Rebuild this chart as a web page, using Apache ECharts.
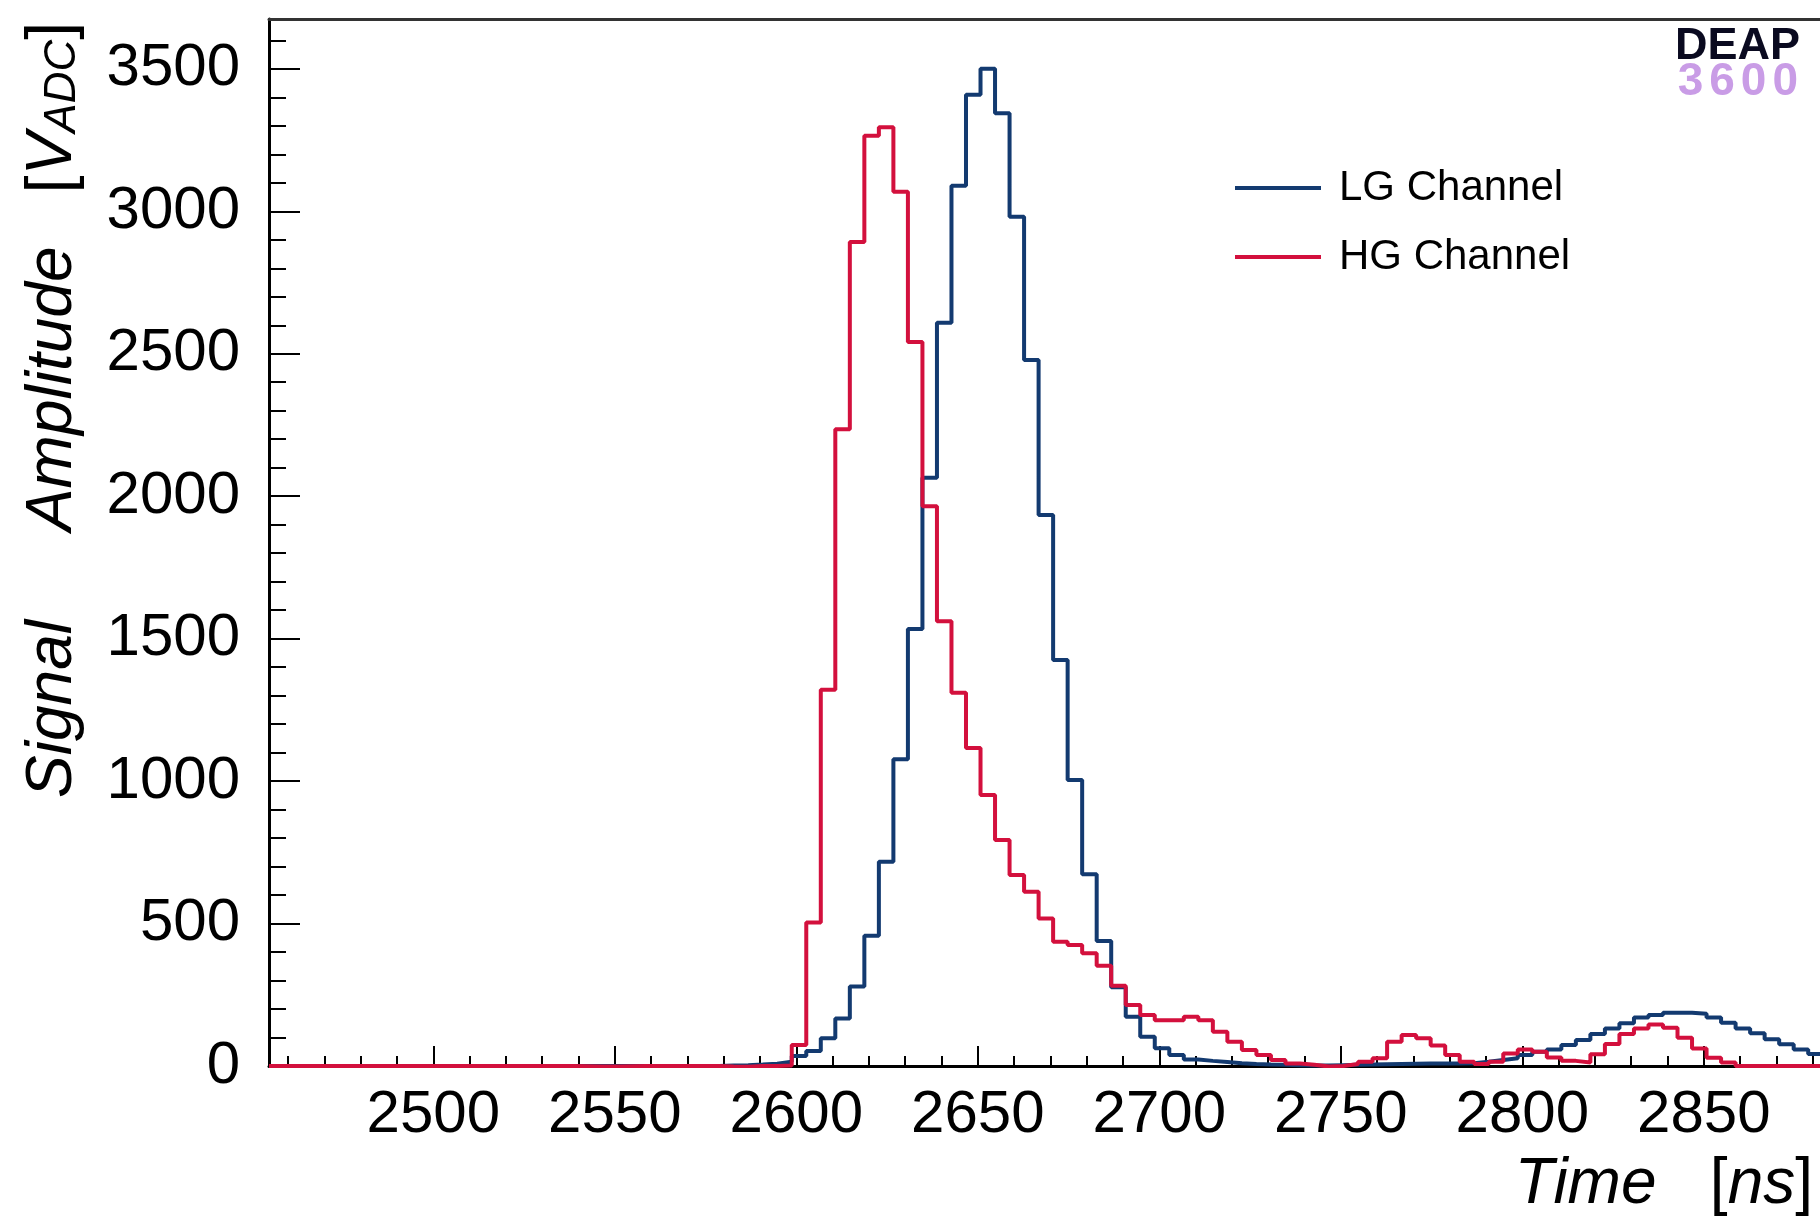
<!DOCTYPE html>
<html>
<head>
<meta charset="utf-8">
<script src="https://cdn.jsdelivr.net/npm/echarts@6/dist/echarts.min.js"></script>
<style>
html, body { margin: 0; padding: 0; background: #fff; }
#chart { width: 1820px; height: 1219px; }
</style>
</head>
<body>
<div id="chart"></div>
<script>
// histogram binning, ns
const binStart = 2454.75
const binWidth = 4
const xMax = 2882

// LG channel, one value per 4 ns bin
const lgValues = [
    0, 0, 0, 0, 0, 0, 0, 0, 0, 0,
    0, 0, 0, 0, 0, 0, 0, 0, 0, 0,
    0, 0, 0, 0, 0, 0, 0, 0, 0, 0,
    0, 2, 3, 5, 8, 15, 35, 53, 97, 167,
    279, 457, 717, 1077, 1534, 2065, 2609, 3090, 3409, 3500,
    3344, 2981, 2478, 1934, 1425, 1004, 673, 439, 276, 173,
    103, 62, 39, 23, 18, 14, 10, 7, 5, 4,
    3, 2, 2, 3, 4, 5, 6, 7, 8, 9,
    9, 9, 10, 15, 21, 27, 39, 50, 58, 74,
    91, 112, 132, 150, 170, 179, 187, 187, 183, 170,
    152, 132, 115, 94, 76, 58, 42
]

// HG channel
const hgValues = [
    0, 0, 0, 0, 0, 0, 0, 0, 0, 0,
    0, 0, 0, 0, 0, 0, 0, 0, 0, 0,
    0, -1, -2, -2, -1, 0, 0, 0, 0, 0,
    0, -2, -3, 0, 0, 2, 74, 504, 1321, 2235,
    2892, 3265, 3295, 3069, 2541, 1965, 1561, 1310, 1116, 951,
    793, 670, 612, 518, 436, 425, 396, 352, 282, 214,
    179, 161, 161, 173, 161, 120, 85, 56, 39, 21,
    9, 4, -2, 0, 7, 15, 27, 85, 109, 97,
    72, 39, 15, 7, 15, 44, 58, 50, 30, 18,
    12, 41, 77, 112, 132, 146, 134, 99, 61, 29,
    12, 0, 0, 0, 0, 0, 0
]

const xMajorTicks = [2500, 2550, 2600, 2650, 2700, 2750, 2800, 2850]
const yMajorTicks = [0, 500, 1000, 1500, 2000, 2500, 3000, 3500]
const yMax = 3675

const seriesNames = ['LG Channel', 'HG Channel']
const colors = ['#133a70', '#d3103d']

const xMinorTicks = []
for (let v = 2460; v <= 2880; v += 10) xMinorTicks.push(v)
const yMinorTicks = []
for (let v = 100; v <= 3600; v += 100) yMinorTicks.push(v)

const font = "'Liberation Sans', Arial, Helvetica, sans-serif"

// bin contents -> step points at the bin edges
function toSteps(values) {
    const pts = values.map((v, i) => [binStart + i * binWidth, v])
    pts.push([binStart + values.length * binWidth, values[values.length - 1]])
    return pts
}

const tickLine = { color: '#000', width: 2 }
const plain = (v) => String(v)

const myChart = echarts.init(document.getElementById('chart'))

const option = {
    animation: false,
    backgroundColor: '#fff',
    grid: { left: 269, right: 0, top: 19, bottom: 153 },
    legend: {
        data: seriesNames,
        orient: 'vertical',
        left: 1230,
        top: 162,
        icon: 'rect',
        itemWidth: 86,
        itemHeight: 4,
        itemGap: 27,
        textStyle: { fontSize: 42, fontFamily: font, color: '#000', lineHeight: 42, padding: [0, 0, 0, 13] }
    },
    xAxis: [
        {
            type: 'value', min: binStart, max: xMax, position: 'bottom',
            axisLine: { show: true, lineStyle: { color: '#000', width: 3 } },
            axisTick: { show: true, inside: true, length: 20, customValues: xMajorTicks, lineStyle: tickLine },
            axisLabel: { customValues: xMajorTicks, formatter: plain, fontSize: 60, fontFamily: font, color: '#000', margin: 19 },
            splitLine: { show: false }
        },
        {
            type: 'value', min: binStart, max: xMax, position: 'bottom',
            axisLine: { show: false },
            axisTick: { show: true, inside: true, length: 10, customValues: xMinorTicks, lineStyle: tickLine },
            axisLabel: { show: false },
            splitLine: { show: false }
        },
        {
            type: 'value', min: binStart, max: xMax, position: 'top',
            axisLine: { show: true, lineStyle: { color: '#333', width: 3 } },
            axisTick: { show: false },
            axisLabel: { show: false },
            splitLine: { show: false }
        }
    ],
    yAxis: [
        {
            type: 'value', min: 0, max: yMax, position: 'left',
            axisLine: { show: true, lineStyle: { color: '#000', width: 3 } },
            axisTick: { show: true, inside: true, length: 31, customValues: yMajorTicks, lineStyle: tickLine },
            axisLabel: { customValues: yMajorTicks, formatter: plain, fontSize: 60, fontFamily: font, color: '#000', margin: 29 },
            splitLine: { show: false }
        },
        {
            type: 'value', min: 0, max: yMax, position: 'left',
            axisLine: { show: false },
            axisTick: { show: true, inside: true, length: 17, customValues: yMinorTicks, lineStyle: tickLine },
            axisLabel: { show: false },
            splitLine: { show: false }
        }
    ],
    series: [lgValues, hgValues].map((vals, i) => ({
        name: seriesNames[i],
        type: 'line',
        step: 'end',
        symbol: 'none',
        xAxisIndex: 0,
        yAxisIndex: 0,
        data: toSteps(vals),
        lineStyle: { color: colors[i], width: 4 },
        itemStyle: { color: colors[i] }
    })),
    graphic: [
        {
            type: 'text', x: 53, y: 22, rotation: Math.PI / 2,
            style: {
                text: '{it|Signal}{rm|     }{it|Amplitude}{rm|   [}{it|V}{sub|ADC}{rm|]}',
                align: 'right', verticalAlign: 'middle',
                textAlign: 'right', textVerticalAlign: 'middle',
                fill: '#000',
                rich: {
                    it: { fontSize: 64, fontStyle: 'italic', fontFamily: font, lineHeight: 64 },
                    rm: { fontSize: 64, fontFamily: font, lineHeight: 64 },
                    sub: { fontSize: 44, fontStyle: 'italic', fontFamily: font, lineHeight: 30, verticalAlign: 'bottom' }
                }
            }
        },
        {
            type: 'text', x: 1813, y: 1185,
            style: {
                text: '{it|Time}{rm|   [}{it|ns}{rm|]}',
                align: 'right', verticalAlign: 'middle',
                textAlign: 'right', textVerticalAlign: 'middle',
                fill: '#000',
                rich: {
                    it: { fontSize: 64, fontStyle: 'italic', fontFamily: font },
                    rm: { fontSize: 64, fontFamily: font }
                }
            }
        },
        {
            type: 'text', x: 1800, y: 47,
            style: {
                text: 'DEAP', align: 'right', verticalAlign: 'middle',
                textAlign: 'right', textVerticalAlign: 'middle',
                font: 'bold 45px ' + font, fill: '#0a0a20'
            }
        },
        {
            type: 'text', x: 1801, y: 82,
            style: {
                text: '{d|3}{d|6}{d|0}{d|0}', align: 'right', verticalAlign: 'middle',
                textAlign: 'right', textVerticalAlign: 'middle',
                fill: '#c99ce6',
                rich: { d: { fontSize: 46, fontWeight: 'bold', fontFamily: font, color: '#c99ce6', padding: [0, 3, 0, 3] } }
            }
        }
    ]
}

option && myChart.setOption(option)
</script>
</body>
</html>
